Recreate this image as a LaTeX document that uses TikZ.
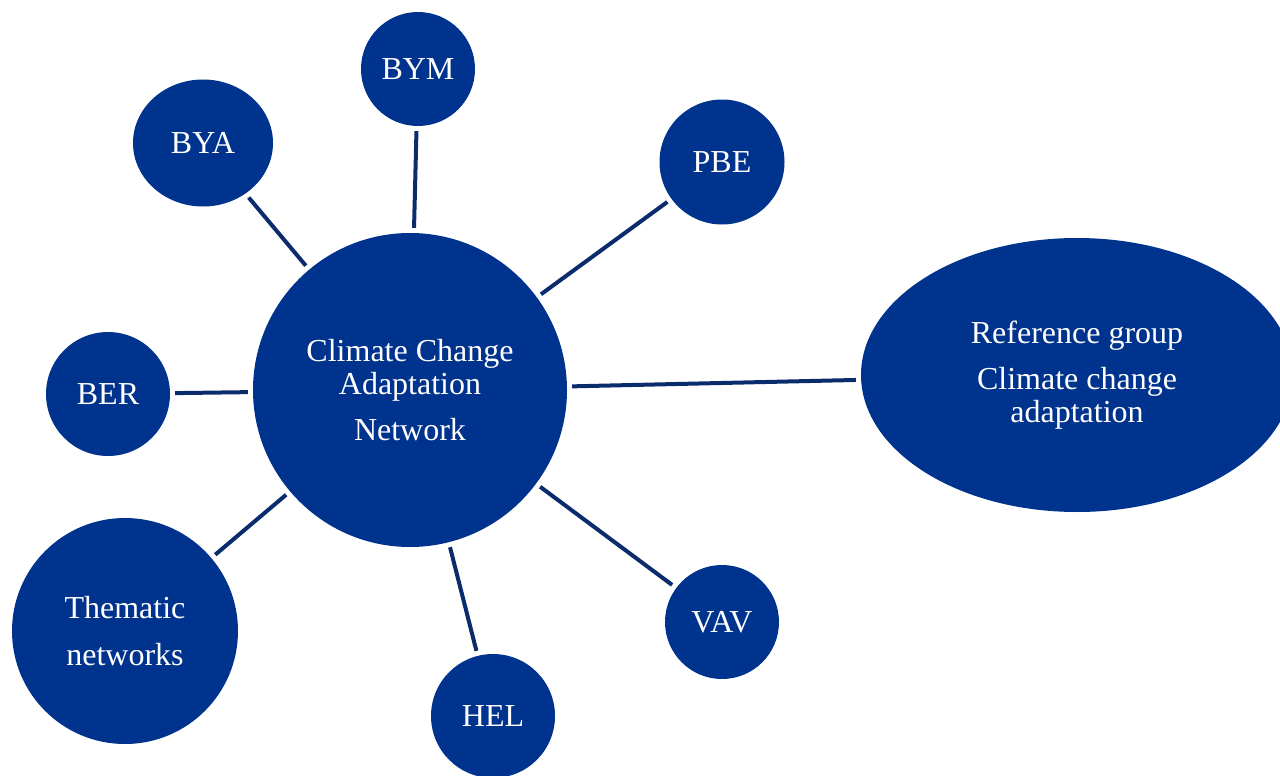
\documentclass[tikz,border=0pt]{standalone}
\usepackage{fontspec}
\setmainfont{Liberation Serif}
\usetikzlibrary{shapes.geometric}
\definecolor{bubblue}{HTML}{00338D}
\definecolor{linkblue}{HTML}{0B2C6C}
\tikzset{
  bub/.style={circle, fill=bubblue, text=white, inner sep=0pt, align=center,
    font=\fontsize{32}{33}\selectfont},
  oval/.style={ellipse, fill=bubblue, text=white, inner sep=0pt, align=center,
    font=\fontsize{32}{33}\selectfont},
  link/.style={draw=linkblue, line width=4pt, shorten >=5pt, shorten <=5pt}
}
\begin{document}
\begin{tikzpicture}[x=1pt,y=-1pt]
\useasboundingbox (0,0) rectangle (1280,776);
\node[bub, minimum size=314pt] (ccan) at (410,390) {Climate Change\\Adaptation\\[13pt]Network};
\node[bub, minimum size=114pt] (bym) at (418,69) {BYM};
\node[oval, minimum width=140pt, minimum height=127pt] (bya) at (203,143) {BYA};
\node[bub, minimum size=125pt] (pbe) at (722,162) {PBE};
\node[bub, minimum size=124pt] (ber) at (108,394) {BER};
\node[bub, minimum size=226pt] (them) at (125,631) {Thematic\\[14pt]networks};
\node[bub, minimum size=124pt] (hel) at (493,716) {HEL};
\node[bub, minimum size=114pt] (vav) at (722,622) {VAV};
\node[oval, minimum width=432pt, minimum height=274pt] (ref) at (1077,375) {Reference group\\[13pt]Climate change\\adaptation};
\draw[link] (ccan) -- (bym);
\draw[link] (ccan) -- (bya);
\draw[link] (ccan) -- (pbe);
\draw[link] (ccan) -- (ber);
\draw[link] (ccan) -- (them);
\draw[link] (ccan) -- (hel);
\draw[link] (ccan) -- (vav);
\draw[link] (ccan) -- (ref);
\end{tikzpicture}
\end{document}
